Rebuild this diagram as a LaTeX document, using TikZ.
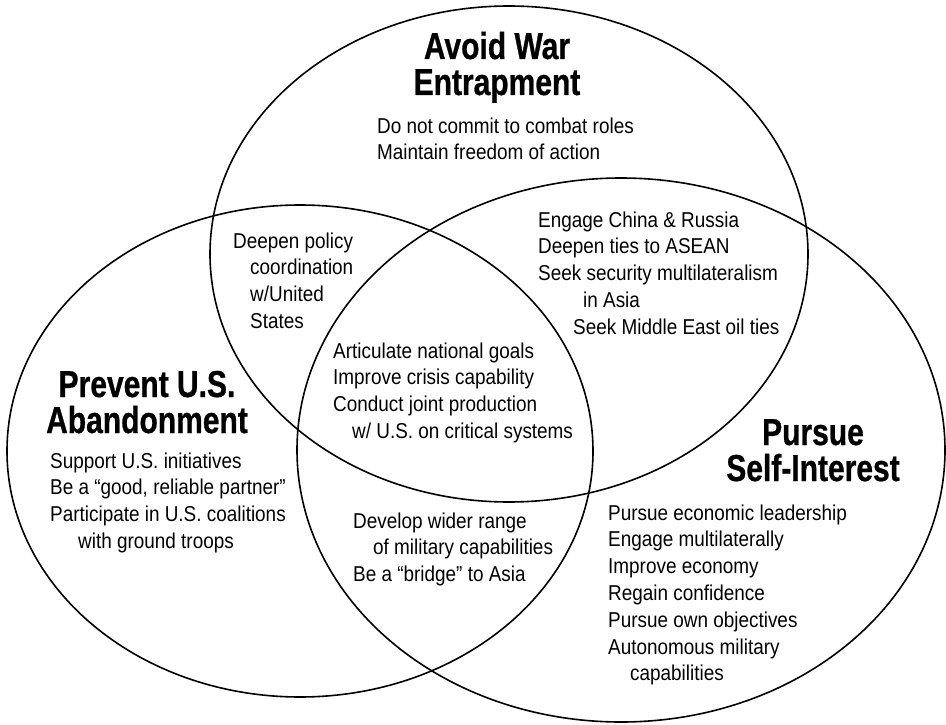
\documentclass[tikz,border=0pt]{standalone}
\usepackage{fontspec}
\setmainfont{Liberation Sans}[FakeStretch=0.88]
\newfontfamily\headfont{Liberation Sans}[FakeStretch=0.8, FakeBold=0.7]
\newcommand\bodylines[1]{\vtop{\baselineskip=26.8pt\lineskiplimit=-50pt\lineskip=0pt\halign{##\hfil\cr#1\crcr}}}
\newcommand\headlines[1]{\vtop{\baselineskip=36pt\lineskiplimit=-50pt\lineskip=0pt\halign{\hfil##\hfil\cr#1\crcr}}}
\newcommand\ind[1]{\hspace*{#1pt}}
\tikzset{
  ring/.style={draw=black, line width=1.6pt},
  body/.style={anchor=base west, inner sep=0pt, font=\fontsize{21.5}{26.8}\selectfont},
  head/.style={anchor=base, inner sep=0pt, font=\headfont\bfseries\fontsize{37.5}{36}\selectfont},
}
\begin{document}
\begin{tikzpicture}[x=1pt,y=-1pt]
\useasboundingbox (0,0) rectangle (946,725);
% ellipses
\draw[ring] (509,254) ellipse [x radius=299pt, y radius=248pt];
\draw[ring] (300,451) ellipse [x radius=293pt, y radius=246pt];
\draw[ring] (621,450) ellipse [x radius=324pt, y radius=272pt];
% headings
\node[head] (hwar) at (497,59) {\headlines{Avoid War\cr Entrapment}};
\node[head] (hprev) at (147,397) {\headlines{Prevent U.S.\cr Abandonment}};
\node[head] (hself) at (813,445) {\headlines{Pursue\cr Self-Interest}};
% texts
\node[body] (twar) at (377,133) {\bodylines{Do not commit to combat roles\cr Maintain freedom of action}};
\node[body] (tws) at (538,227) {\bodylines{Engage China \& Russia\cr Deepen ties to ASEAN\cr Seek security multilateralism\cr \ind{45}in Asia\cr \ind{35}Seek Middle East oil ties}};
\node[body] (twp) at (233,248) {\bodylines{Deepen policy\cr \ind{17}coordination\cr \ind{17}w/United\cr \ind{17}States}};
\node[body] (tall) at (333,358) {\bodylines{Articulate national goals\cr Improve crisis capability\cr Conduct joint production\cr \ind{19}w/ U.S. on critical systems}};
\node[body] (tprev) at (50,468) {\bodylines{Support U.S. initiatives\cr Be a “good, reliable partner”\cr Participate in U.S. coalitions\cr \ind{28}with ground troops}};
\node[body] (tps) at (353,528) {\bodylines{Develop wider range\cr \ind{20}of military capabilities\cr Be a “bridge” to Asia}};
\node[body] (tself) at (608,520) {\bodylines{Pursue economic leadership\cr Engage multilaterally\cr Improve economy\cr Regain confidence\cr Pursue own objectives\cr Autonomous military\cr \ind{22}capabilities}};
\end{tikzpicture}
\end{document}
